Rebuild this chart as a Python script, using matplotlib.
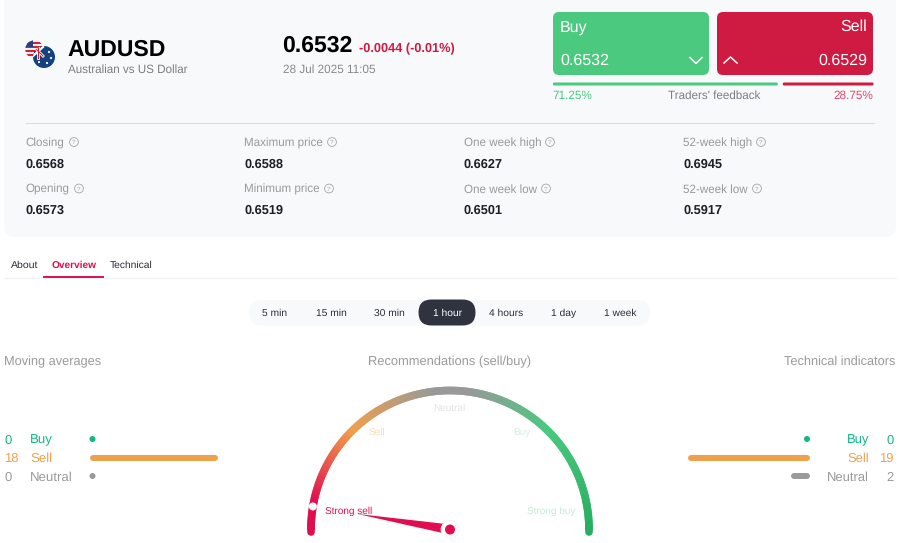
import numpy as np
import matplotlib
matplotlib.use("Agg")
import matplotlib.pyplot as plt
from matplotlib.patches import FancyBboxPatch, Circle, Polygon, Rectangle
from matplotlib.collections import LineCollection
from matplotlib.colors import LinearSegmentedColormap

plt.rcParams["text.hinting"] = "none"

symbol = "AUDUSD"
symbol_name = "Australian vs US Dollar"
price = "0.6532"
change = "-0.0044 (-0.01%)"
timestamp = "28 Jul 2025 11:05"
buy_price = "0.6532"
sell_price = "0.6529"
buy_pct = 71.25
sell_pct = 28.75
stat_labels = [["Closing", "Opening"], ["Maximum price", "Minimum price"],
               ["One week high", "One week low"], ["52-week high", "52-week low"]]
stat_values = [["0.6568", "0.6573"], ["0.6588", "0.6519"],
               ["0.6627", "0.6501"], ["0.6945", "0.5917"]]
tabs = ["About", "Overview", "Technical"]
timeframes = ["5 min", "15 min", "30 min", "1 hour", "4 hours", "1 day", "1 week"]
active_timeframe = "1 hour"
signal_labels = ["Buy", "Sell", "Neutral"]
ma_counts = [0, 18, 0]
ti_counts = [0, 19, 2]
gauge_labels = ["Strong sell", "Sell", "Neutral", "Buy", "Strong buy"]
gauge_score = -0.894   # -1 strong sell ... +1 strong buy

GREEN = "#4ac97f"; RED = "#cf1b41"; CRIM = "#e00e4e"; ORANGE = "#f0a04b"
TEAL = "#13b886"; GRAY = "#9a9a9a"; DARK = "#2f3340"
ARIAL = "Liberation Sans"

fig = plt.figure(figsize=(9, 5.43), dpi=100, facecolor="white")
ax = fig.add_axes([0, 0, 1, 1])
ax.set_xlim(0, 900); ax.set_ylim(543, 0); ax.axis("off")

def px(s):
    return s * 0.72

def T(x, y, s, size, color="#000", ha="left", weight="normal", alpha=1, z=5):
    ax.text(x, y, s, fontsize=px(size), color=color, ha=ha, va="center_baseline",
            fontweight=weight, family=ARIAL, alpha=alpha, zorder=z)

def RR(x0, y0, x1, y1, r, color, z=1):
    ax.add_patch(FancyBboxPatch((x0 + r, y0 + r), x1 - x0 - 2 * r, y1 - y0 - 2 * r,
                                boxstyle=f"round,pad={r},rounding_size={r}",
                                fc=color, ec="none", zorder=z))

# card
RR(4, -12, 896, 237, 10, "#f8f9fb", 0)

# flag
us = Circle((34.3, 49.3), 9, fc="#f0f0f4", ec="none", zorder=2); ax.add_patch(us)
for yy in [42, 46, 50, 54]:
    r = Rectangle((25, yy), 20, 2, fc="#d2232f", ec="none", zorder=2.1); ax.add_patch(r); r.set_clip_path(us)
r = Rectangle((25, 40), 8, 7, fc="#2a3f82", ec="none", zorder=2.2); ax.add_patch(r); r.set_clip_path(us)
au = Circle((44, 57), 11, fc="#14427f", ec="none", zorder=3); ax.add_patch(au)
for seg, col, lw in [([33, 43], [46, 56], 2.0), ([33, 43], [56, 47], 1.6), ([38, 38], [45, 58], 2.0)]:
    ln, = ax.plot(seg, col, color="white", lw=lw, zorder=3.2)
    ln.set_clip_path(au)
ln, = ax.plot([33, 43], [46, 56], color="#d2232f", lw=0.8, zorder=3.3); ln.set_clip_path(au)
ln, = ax.plot([38, 38], [45, 58], color="#d2232f", lw=0.8, zorder=3.3); ln.set_clip_path(au)
for sx, sy in [(49, 52), (51, 58), (47, 63), (39, 62)]:
    ax.add_patch(Circle((sx, sy), 1.1, fc="white", ec="none", zorder=3.4))

T(67, 47.5, symbol, 23, "#000", weight="bold")
T(68, 69, symbol_name, 11.6, "#7d7d7d")
T(282.5, 43.5, price, 23, "#000", weight="bold")
T(359, 47.5, change, 12.75, RED, weight="bold")
T(283, 68.5, timestamp, 11.7, "#8a8a8a")

# buy/sell buttons
RR(553, 12, 709, 75, 6, GREEN, 2)
RR(717, 12, 873, 75, 6, RED, 2)
T(560, 25.5, "Buy", 16, "white")
T(867, 25.5, "Sell", 16, "white", ha="right")
T(560, 59.5, buy_price, 16, "white")
T(867, 59.5, sell_price, 16, "white", ha="right")
ax.plot([690, 696, 702], [57.5, 63.5, 57.5], color="white", lw=1.1, zorder=5)
ax.plot([724, 730.5, 737], [63, 57, 63], color="white", lw=1.1, zorder=5)

# traders feedback
bar_l, bar_r, gap = 553, 873.5, 5
bw = (bar_r - bar_l - gap)
split = bar_l + bw * buy_pct / (buy_pct + sell_pct)
RR(bar_l, 82.5, split, 85.5, 1.2, GREEN, 2)
RR(split + gap, 82.5, bar_r, 85.5, 1.2, RED, 2)
T(552.5, 94.5, f"{buy_pct:.2f}%", 11.8, GREEN)
T(873.5, 94.5, f"{sell_pct:.2f}%", 11.8, "#e8476b", ha="right")
T(714, 94.5, "Traders' feedback", 11.6, "#7d7d85", ha="center")
ax.plot([26, 874], [122.5, 122.5], color="#dcdde0", lw=0.8, zorder=1)

# stats
xs = [25, 244.5, 463.5, 683]
hint_x = [[74, 79], [332, 329], [550, 546], [761, 757]]
for i, x in enumerate(xs):
    for j, (ly, vy) in enumerate([(142, 163), (188.5, 209.5)]):
        T(x, ly, stat_labels[i][j], 11.6, "#9a9a9a")
        cx = hint_x[i][j]
        ax.add_patch(Circle((cx, ly), 4.4, fc="none", ec="#a5a5a5", lw=0.6, zorder=5))
        T(cx, ly, "?", 6.5, "#a5a5a5", ha="center")
        T(x, vy, stat_values[i][j], 12.8, "#1d2027", weight="bold")

# tabs
T(11, 264.7, tabs[0], 10.5, "#2b2e38")
T(51.5, 264.7, tabs[1], 10.1, CRIM, weight="bold")
T(110, 264.7, tabs[2], 10.3, "#2b2e38")
ax.plot([4, 896], [277.5, 277.5], color="#f2f3f5", lw=1, zorder=1)
ax.plot([44, 102.5], [276.7, 276.7], color=CRIM, lw=1.4, zorder=2)

# timeframe pill
RR(249, 300, 650, 325.5, 12.7, "#f8f9fb", 1)
tf_x = [275, 331, 389.5, 447.5, 506.5, 564, 620.5]
RR(418.5, 299.5, 475.5, 325.5, 13, DARK, 2)
for x, s in zip(tf_x, timeframes):
    T(x, 312.5, s, 10.3, "white" if s == active_timeframe else "#2b2e38", ha="center")

# section titles
T(4, 360.6, "Moving averages", 12.7, "#9a9a9a")
T(449.5, 360.6, "Recommendations (sell/buy)", 12.85, "#9a9a9a", ha="center")
T(895.5, 360.6, "Technical indicators", 12.7, "#9a9a9a", ha="right")

# signal bars
rows_y = [439, 457.5, 476]
sig_col = [TEAL, ORANGE, GRAY]
unit_left = 128 / 18
unit_right = 122 / 19
for k, y in enumerate(rows_y):
    T(4, y, str(ma_counts[k]), 13, sig_col[k])
    T(30, y, signal_labels[k], 13.3, sig_col[k])
    w = ma_counts[k] * unit_left
    if w > 0:
        ax.plot([93, 90 + w - 3], [y, y], color=sig_col[k], lw=4.3, solid_capstyle="round", zorder=3)
    else:
        ax.add_patch(Circle((92.5, y), 3, fc=sig_col[k], ec="none", zorder=3))
    T(893.5, y, str(ti_counts[k]), 13, sig_col[k], ha="right")
    T(869, y, signal_labels[k], 13, sig_col[k], ha="right")
    w = ti_counts[k] * unit_right
    if k == 2:
        w = 19
    if w > 0:
        ax.plot([810 - w + 3, 807], [y, y], color=sig_col[k], lw=4.3, solid_capstyle="round", zorder=3)
    else:
        ax.add_patch(Circle((807, y), 3, fc=sig_col[k], ec="none", zorder=3))

# gauge
cx, cy, R = 450, 529.5, 139
cmap = LinearSegmentedColormap.from_list("g", [(0, "#e00e4e"), (0.06, "#e00e4e"), (0.25, ORANGE), (0.46, "#999999"),
                                                (0.54, "#999999"), (0.75, "#4ac97f"), (1, "#27ae60")])
th = np.linspace(np.pi, 0, 400)
gx, gy = cx + R * np.cos(th), cy - R * np.sin(th)
segs = [[(gx[i], gy[i]), (gx[min(i + 2, len(th) - 1)], gy[min(i + 2, len(th) - 1)])] for i in range(len(th) - 1)]
lc = LineCollection(segs, colors=cmap(np.linspace(0, 1, len(segs))), linewidths=5.5,
                    capstyle="butt", zorder=3)
ax.add_collection(lc)
for ex, col in [(cx - R, "#e00e4e"), (cx + R, "#27ae60")]:
    ax.plot([ex, ex], [cy - 0.5, cy + 2.5], color=col, lw=5.5, solid_capstyle="round", zorder=3)
ang = np.pi / 2 * (1 - gauge_score)
ax.add_patch(Circle((cx + R * np.cos(ang), cy - R * np.sin(ang)), 4, fc="white", ec="none", zorder=4))
ux, uy = np.cos(ang), -np.sin(ang)
nx, ny = -uy, ux
L = 94
ax.add_patch(Polygon([(cx + L * ux, cy + L * uy), (cx + 5 * nx, cy + 5 * ny), (cx - 5 * nx, cy - 5 * ny)],
                     fc=CRIM, ec="none", zorder=5))
ax.add_patch(Circle((cx, cy), 9, fc="white", ec="#f0f0f2", lw=0.5, zorder=6))
ax.add_patch(Circle((cx, cy), 5, fc=CRIM, ec="none", zorder=7))
gpos = [(348.5, 510), (376.5, 431.5), (449.5, 407), (522, 431.5), (551, 510)]
gcol = [CRIM, "#f9dcbc", "#e3e3e3", "#d3f1e4", "#c2ecd6"]
for (x, y), s, c in zip(gpos, gauge_labels, gcol):
    T(x, y, s, 10, c, ha="center", z=8)

fig.savefig("out.png", dpi=100, facecolor="white")
